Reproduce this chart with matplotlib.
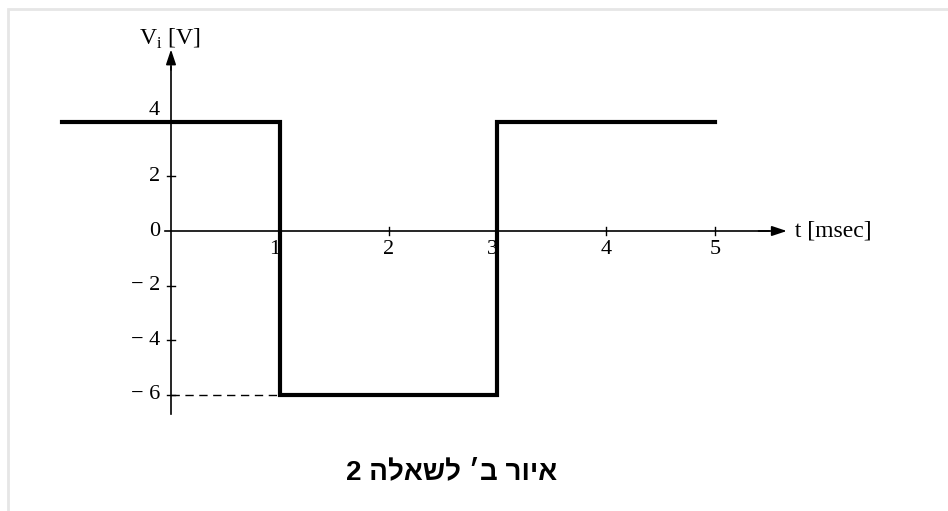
import numpy as np
import matplotlib.pyplot as plt
from matplotlib.patches import Rectangle

# signal (t in msec, V in volts)
t_pts = [-1, 1, 1, 3, 3, 5]
v_pts = [4, 4, -6, -6, 4, 4]
xticks = [1, 2, 3, 4, 5]
yticks = [4, 2, -2, -4, -6]
ytick_labels = ["4", "2", "\u2212 2", "\u2212 4", "\u2212 6"]
caption = "איור ב׳ לשאלה 2"

W, H = 948, 511
fig = plt.figure(figsize=(W / 100, H / 100), dpi=100)
ax = fig.add_axes([0, 0, 1, 1])

# pixel mapping: t=0 at px 171, 108.8 px/ms ; V=0 at py 231, 27.3 px/V
sx, x0 = 108.8, 171
sy, y0 = 27.3, 231
ax.set_xlim(-x0 / sx, (W - x0) / sx)
ax.set_ylim(-(H - y0) / sy, y0 / sy)
ax.axis("off")

px = 1 / sx  # one pixel in t units
py = 1 / sy

serif = "Liberation Serif"
fs = 16

# light frame of the scanned page
fig.patches.append(Rectangle((8 / W, -0.1), 1.2, (H - 9) / H + 0.1,
                             transform=fig.transFigure, fill=False,
                             edgecolor="#e6e6e6", lw=2))

# axes
ax.plot([0, 0], [-6.7, 6.0], color="black", lw=1.2)
ax.annotate("", xy=(0, 6.65), xytext=(0, 5.9),
            arrowprops=dict(arrowstyle="-|>,head_length=0.9,head_width=0.3",
                            color="black", lw=1.2, shrinkA=0, shrinkB=0))
ax.plot([-6 * px, 5.5], [0, 0], color="black", lw=1.2)
ax.annotate("", xy=(5.66, 0), xytext=(5.4, 0),
            arrowprops=dict(arrowstyle="-|>,head_length=0.9,head_width=0.3",
                            color="black", lw=1.2, shrinkA=0, shrinkB=0))

# ticks
for x in xticks:
    ax.plot([x, x], [-4 * py, 4 * py], color="black", lw=1)
for y in yticks:
    ax.plot([-4 * px, 4 * px], [y, y], color="black", lw=1)

# tick labels
for x in xticks:
    off = -5 * px if x in (1, 3) else 0
    ax.text(x + off, -9 * py, str(x), ha="center", va="top",
            fontsize=fs, family=serif)
for y, lab in zip(yticks, ytick_labels):
    dy = 11 * py if y == 4 else 0
    ax.text(-11 * px, y + dy, lab, ha="right", va="center",
            fontsize=fs, family=serif)
ax.text(-11 * px, 0, "0", ha="right", va="center", fontsize=fs, family=serif)

# axis labels
ax.text(-32 * px, 7.05, r"V$_\mathregular{i}$ [V]", ha="left", va="center",
        fontsize=17, family=serif)
ax.text(5.68, 0, " t [msec]", ha="left", va="center", fontsize=17, family=serif)

# dashed guide at -6
ax.plot([0, 1], [-6, -6], color="black", lw=1, ls=(0, (6, 4)))

# signal
ax.plot(t_pts, v_pts, color="black", lw=3, solid_joinstyle="miter")

# caption (reversed for left-to-right rendering)
ax.text((452 - x0) / sx, -(472 - y0) / sy, caption[::-1], ha="center",
        va="center", fontsize=20, fontweight="bold",
        family=["Liberation Sans", "DejaVu Sans"])

fig.savefig("out.png", dpi=100, facecolor="white")
